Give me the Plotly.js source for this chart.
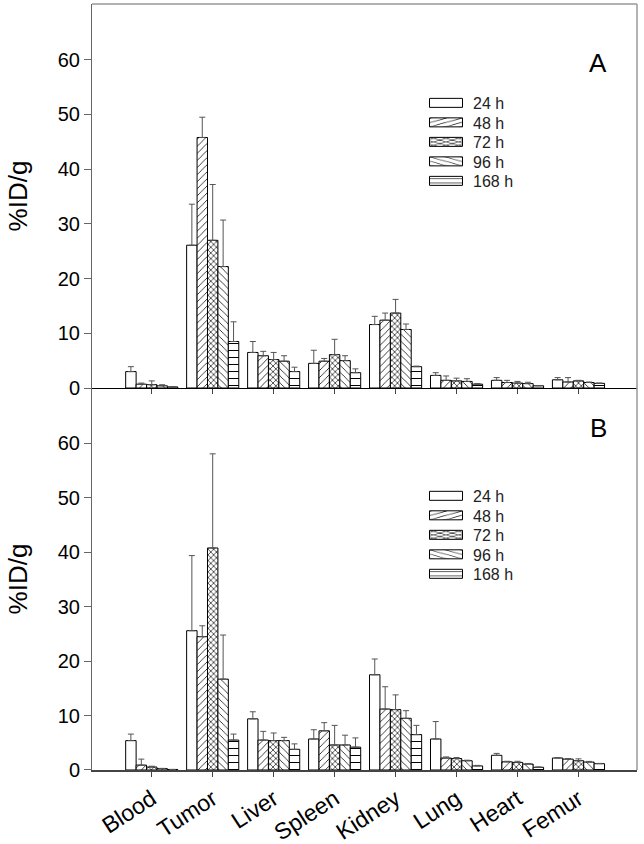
<!DOCTYPE html>
<html>
<head>
<meta charset="utf-8">
<script src="https://cdn.plot.ly/plotly-3.0.1.min.js"></script>
<style>html,body{margin:0;padding:0;background:#fff;}#chart{width:644px;height:844px;}</style>
</head>
<body>
<div id="chart"></div>
<script>
const categories = ['Blood','Tumor','Liver','Spleen','Kidney','Lung','Heart','Femur'];
const times = ['24 h','48 h','72 h','96 h','168 h'];
const yTicks = [0,10,20,30,40,50,60];

// Panel A values and upper error bars
const a24 = [3.0, 26.1, 6.5, 4.5, 11.6, 2.3, 1.4, 1.5];
const a24err = [0.9, 7.5, 2.0, 2.4, 1.5, 0.5, 0.5, 0.4];
const a48 = [0.7, 45.8, 5.9, 4.9, 12.4, 1.4, 1.0, 1.1];
const a48err = [0.2, 3.7, 0.8, 0.5, 1.3, 0.8, 0.4, 0.8];
const a72 = [0.6, 27.0, 5.2, 6.1, 13.7, 1.3, 0.9, 1.3];
const a72err = [0.7, 10.2, 1.3, 2.8, 2.5, 0.5, 0.3, 0.1];
const a96 = [0.4, 22.2, 4.9, 5.0, 10.7, 1.2, 0.8, 1.0];
const a96err = [0.2, 8.5, 1.0, 0.9, 1.0, 0.5, 0.25, 0.1];
const a168 = [0.2, 8.5, 3.0, 2.8, 3.9, 0.7, 0.4, 0.85];
const a168err = [0.05, 3.6, 0.8, 0.7, 0.1, 0.1, 0.05, 0.05];

// Panel B values and upper error bars
const b24 = [5.4, 25.6, 9.4, 5.7, 17.5, 5.7, 2.7, 2.2];
const b24err = [1.2, 13.8, 1.3, 1.7, 2.9, 3.2, 0.35, 0.1];
const b48 = [0.9, 24.5, 5.5, 7.2, 11.2, 2.2, 1.5, 2.0];
const b48err = [1.1, 2.0, 1.6, 1.5, 4.1, 0.2, 0.1, 0.1];
const b72 = [0.55, 40.8, 5.4, 4.6, 11.1, 2.1, 1.4, 1.7];
const b72err = [0.15, 17.3, 1.4, 3.6, 2.7, 0.2, 0.2, 0.35];
const b96 = [0.25, 16.7, 5.4, 4.6, 9.5, 1.7, 1.1, 1.46];
const b96err = [0.05, 8.1, 0.6, 1.8, 1.4, 0.1, 0.1, 0.12];
const b168 = [0.1, 5.5, 3.8, 4.2, 6.5, 0.75, 0.5, 1.16];
const b168err = [0, 1.1, 1.0, 1.7, 1.7, 0.1, 0.05, 0.05];

const shapesPat = ['', '/', 'x', '\\', '-'];
const patSize = [6, 5, 4, 5, 7];
const patSolid = [0.15, 0.15, 0.3, 0.15, 0.15];
const FONT = 'Liberation Sans, Arial, sans-serif';

function makeTraces(vals, errs, xa, ya, legendName) {
  return vals.map((v, i) => ({
    type: 'bar',
    name: times[i],
    x: categories,
    y: v,
    xaxis: xa,
    yaxis: ya,
    legend: legendName,
    marker: {
      color: '#ffffff',
      line: {color: '#000000', width: 1},
      pattern: {shape: shapesPat[i], fgcolor: '#000000', bgcolor: '#ffffff', size: patSize[i], solidity: patSolid[i]}
    },
    error_y: {type: 'data', symmetric: false, array: errs[i], arrayminus: errs[i].map(() => 0),
              color: '#555555', thickness: 1, width: 3}
  }));
}

const traces = [
  ...makeTraces([a24, a48, a72, a96, a168], [a24err, a48err, a72err, a96err, a168err], 'x', 'y', 'legend'),
  ...makeTraces([b24, b48, b72, b96, b168], [b24err, b48err, b72err, b96err, b168err], 'x2', 'y2', 'legend2')
];

const xr = [-0.98, 7.96];
const yr = [0, 70.2];
const yAxisCommon = {
  range: yr, tickvals: yTicks, ticks: 'outside', ticklen: 7, tickcolor: '#666',
  showline: true, linecolor: '#666', linewidth: 1, showgrid: false, zeroline: false,
  tickfont: {family: FONT, size: 20, color: '#000'},
  title: {text: '%ID/g', font: {family: FONT, size: 26, color: '#000'}, standoff: 22}
};
const legendCommon = {
  font: {family: FONT, size: 16, color: '#222'}, bgcolor: 'rgba(0,0,0,0)',
  xanchor: 'left', yanchor: 'top', tracegroupgap: 0, itemwidth: 44
};

const layout = {
  width: 644, height: 844,
  margin: {l: 92, r: 7, t: 4, b: 74},
  paper_bgcolor: '#fff', plot_bgcolor: '#fff',
  barmode: 'group', bargap: 0.145, bargroupgap: 0,
  font: {family: FONT},
  xaxis: {domain: [0, 1], anchor: 'y', range: xr, showticklabels: false, ticks: 'outside', ticklen: 5,
          tickcolor: '#444', showline: true, linecolor: '#000', linewidth: 1.5, showgrid: false},
  yaxis: Object.assign({}, yAxisCommon, {domain: [0.4987, 1], anchor: 'x'}),
  xaxis2: {domain: [0, 1], anchor: 'y2', range: xr, ticks: 'outside', ticklen: 5, tickangle: -33,
           tickcolor: '#444', showline: true, linecolor: '#444', linewidth: 1.5, showgrid: false,
           tickfont: {family: FONT, size: 23, color: '#000'}},
  yaxis2: Object.assign({}, yAxisCommon, {domain: [0, 0.4987], anchor: 'x2'}),
  legend: Object.assign({}, legendCommon, {x: 0.6, y: 0.893}),
  legend2: Object.assign({}, legendCommon, {x: 0.6, y: 0.38}),
  shapes: [
    {type: 'line', xref: 'paper', yref: 'paper', x0: 0, x1: 1, y0: 1, y1: 1, line: {color: '#999', width: 1.5}},
    {type: 'line', xref: 'paper', yref: 'paper', x0: 1, x1: 1, y0: 0, y1: 1, line: {color: '#999', width: 1.5}}
  ],
  annotations: [
    {text: 'A', xref: 'paper', yref: 'paper', x: 0.949, y: 0.945, showarrow: false, font: {family: FONT, size: 26, color: '#000'}},
    {text: 'B', xref: 'paper', yref: 'paper', x: 0.949, y: 0.447, showarrow: false, font: {family: FONT, size: 26, color: '#000'}}
  ]
};

Plotly.newPlot('chart', traces, layout, {displayModeBar: false, staticPlot: true}).then(gd => {
  // widen legend swatches to match the reference's wide rectangles
  gd.querySelectorAll('.legendpoints path').forEach(p => {
    const t = p.getAttribute('transform') || '';
    p.setAttribute('transform', t + ' scale(2.75,0.75)');
    p.setAttribute('vector-effect', 'non-scaling-stroke');
  });
  // tighten legend row spacing (reference rows are ~19.5 px apart)
  const groups = new Map();
  gd.querySelectorAll('g.traces').forEach(g => {
    if (!g.closest('.infolayer')) return;
    const par = g.parentNode;
    if (!groups.has(par)) groups.set(par, []);
    groups.get(par).push(g);
  });
  groups.forEach(items => {
    const parse = g => {
      const m = /translate\(\s*([-\d.]+)[ ,]+([-\d.]+)\s*\)/.exec(g.getAttribute('transform') || '');
      return m ? [parseFloat(m[1]), parseFloat(m[2])] : [0, 0];
    };
    const y0 = parse(items[0])[1];
    items.forEach((g, i) => {
      const [x] = parse(g);
      g.setAttribute('transform', 'translate(' + x + ',' + (y0 + i * 19.5) + ')');
    });
  });
});
</script>
</body>
</html>
